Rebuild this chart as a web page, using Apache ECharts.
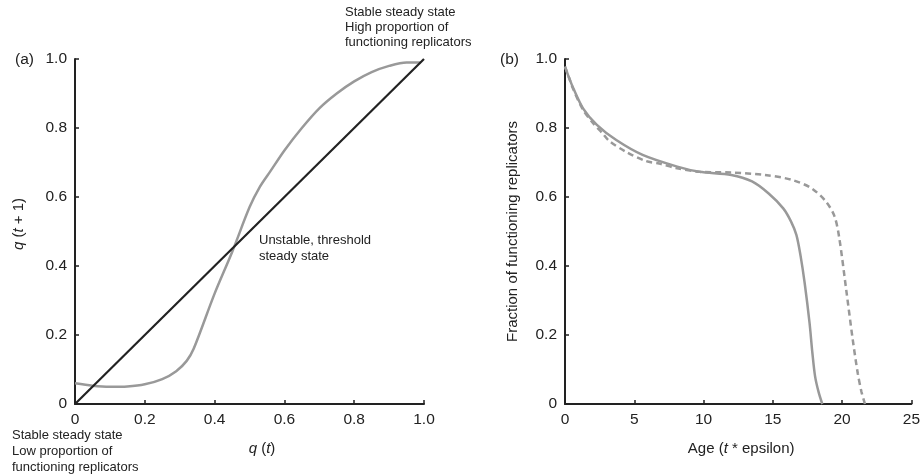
<!DOCTYPE html>
<html>
<head>
<meta charset="utf-8">
<script src="https://cdn.jsdelivr.net/npm/echarts@6/dist/echarts.min.js"></script>
<style>
  html, body { margin: 0; padding: 0; background: #fff; }
  #chart { width: 923px; height: 475px; }
</style>
</head>
<body>
<div id="chart"></div>
<script>
// (a) return map q(t) -> q(t+1)
var qt = [0, 0.05, 0.1, 0.15, 0.2, 0.25, 0.29, 0.32, 0.34, 0.4, 0.45, 0.5, 0.53, 0.56, 0.6, 0.65, 0.7, 0.75, 0.8, 0.85, 0.9, 0.95, 0.99]
var qNext = [0.06, 0.053, 0.05, 0.051, 0.057, 0.072, 0.095, 0.125, 0.16, 0.32, 0.44, 0.57, 0.63, 0.675, 0.735, 0.8, 0.857, 0.9, 0.935, 0.962, 0.98, 0.99, 0.99]
var diagX = [0, 1]
var diagY = [0, 1]

// (b) fraction of functioning replicators vs age
var ageSolid = [0, 0.3, 0.6, 1.3, 2.3, 3.7, 5.6, 8.1, 9.7, 12, 13.5, 14.7, 15.75, 16.3, 16.7, 17, 17.3, 17.65, 17.85, 18.05, 18.3, 18.57]
var fracSolid = [0.978, 0.945, 0.915, 0.857, 0.809, 0.765, 0.722, 0.688, 0.673, 0.664, 0.645, 0.61, 0.567, 0.53, 0.49, 0.43, 0.35, 0.235, 0.15, 0.08, 0.035, 0]
var ageDashed = [0, 0.3, 0.6, 1.3, 2, 2.7, 3.2, 4.4, 5.85, 6.8, 8, 9.7, 12, 14.4, 16.35, 17.8, 18.85, 19.46, 19.8, 20.3, 20.77, 21.13, 21.4, 21.65]
var fracDashed = [0.978, 0.945, 0.912, 0.853, 0.815, 0.785, 0.762, 0.731, 0.704, 0.697, 0.684, 0.673, 0.671, 0.664, 0.65, 0.625, 0.586, 0.543, 0.48, 0.33, 0.186, 0.089, 0.035, 0]

function pairs(xs, ys) {
  return xs.map(function (x, i) { return [x, ys[i]] })
}

var font = 'Liberation Sans, Arial, sans-serif'
var ink = '#222'
var grey = '#999'

function decimal(v) {
  return v === 0 ? '0' : v.toFixed(1)
}

var axisBase = {
  type: 'value',
  axisLine: { show: true, lineStyle: { color: ink, width: 2 } },
  axisTick: { show: true, inside: true, length: 4, lineStyle: { color: ink, width: 1.5 } },
  splitLine: { show: false },
  axisLabel: { color: ink, fontSize: 15.5, fontFamily: font, margin: 8 },
  nameLocation: 'middle',
  nameTextStyle: {
    color: ink, fontSize: 15, fontFamily: font,
    rich: { i: { fontStyle: 'italic', fontSize: 15, fontFamily: font, color: ink } }
  }
}

function axis(extra) {
  var a = JSON.parse(JSON.stringify(axisBase))
  Object.keys(extra).forEach(function (k) {
    if (typeof extra[k] === 'object' && a[k] && !Array.isArray(extra[k])) {
      a[k] = Object.assign({}, a[k], extra[k])
    } else {
      a[k] = extra[k]
    }
  })
  return a
}

var chart = echarts.init(document.getElementById('chart'))
var option = {
  animation: false,
  grid: [
    { left: 75, top: 59, width: 349, height: 345 },
    { left: 565, top: 59, width: 349, height: 345 }
  ],
  xAxis: [
    axis({ gridIndex: 0, min: 0, max: 1, interval: 0.2, name: '{i|q} ({i|t})', nameGap: 37,
      nameTextStyle: { padding: [0, 0, 0, 25] },
      axisLabel: { formatter: decimal } }),
    axis({ gridIndex: 1, min: 0, max: 25, interval: 5, name: 'Age ({i|t} * epsilon)', nameGap: 37,
      nameTextStyle: { padding: [0, 0, 0, 6] } })
  ],
  yAxis: [
    axis({ gridIndex: 0, min: 0, max: 1, interval: 0.2, name: '{i|q} ({i|t} + 1)', nameGap: 49,
      nameTextStyle: { padding: [0, 0, 0, 15] },
      axisLabel: { formatter: decimal } }),
    axis({ gridIndex: 1, min: 0, max: 1, interval: 0.2, name: 'Fraction of functioning replicators', nameGap: 45,
      axisLabel: { formatter: decimal } })
  ],
  series: [
    {
      type: 'line', xAxisIndex: 0, yAxisIndex: 0, data: pairs(qt, qNext),
      smooth: 0.3, showSymbol: false, lineStyle: { color: grey, width: 2.5 }, z: 2
    },
    {
      type: 'line', xAxisIndex: 0, yAxisIndex: 0, data: pairs(diagX, diagY),
      showSymbol: false, lineStyle: { color: ink, width: 2.2 }, z: 3
    },
    {
      type: 'line', xAxisIndex: 1, yAxisIndex: 1, data: pairs(ageSolid, fracSolid),
      smooth: 0.3, showSymbol: false, lineStyle: { color: grey, width: 2.5 }
    },
    {
      type: 'line', xAxisIndex: 1, yAxisIndex: 1, data: pairs(ageDashed, fracDashed),
      smooth: 0.3, showSymbol: false,
      lineStyle: { color: grey, width: 2.5, type: [6, 4] }
    }
  ],
  graphic: [
    { type: 'text', left: 15, top: 52, style: { text: '(a)', font: '15.5px ' + font, fill: ink } },
    { type: 'text', left: 500, top: 52, style: { text: '(b)', font: '15.5px ' + font, fill: ink } },
    { type: 'text', left: 345, top: 5, style: { text: 'Stable steady state\nHigh proportion of\nfunctioning replicators', font: '13px ' + font, fill: ink, lineHeight: 15 } },
    { type: 'text', left: 259, top: 232, style: { text: 'Unstable, threshold\nsteady state', font: '13px ' + font, fill: ink, lineHeight: 16 } },
    { type: 'text', left: 12, top: 427, style: { text: 'Stable steady state\nLow proportion of\nfunctioning replicators', font: '13px ' + font, fill: ink, lineHeight: 16 } }
  ]
}
chart.setOption(option)
</script>
</body>
</html>
